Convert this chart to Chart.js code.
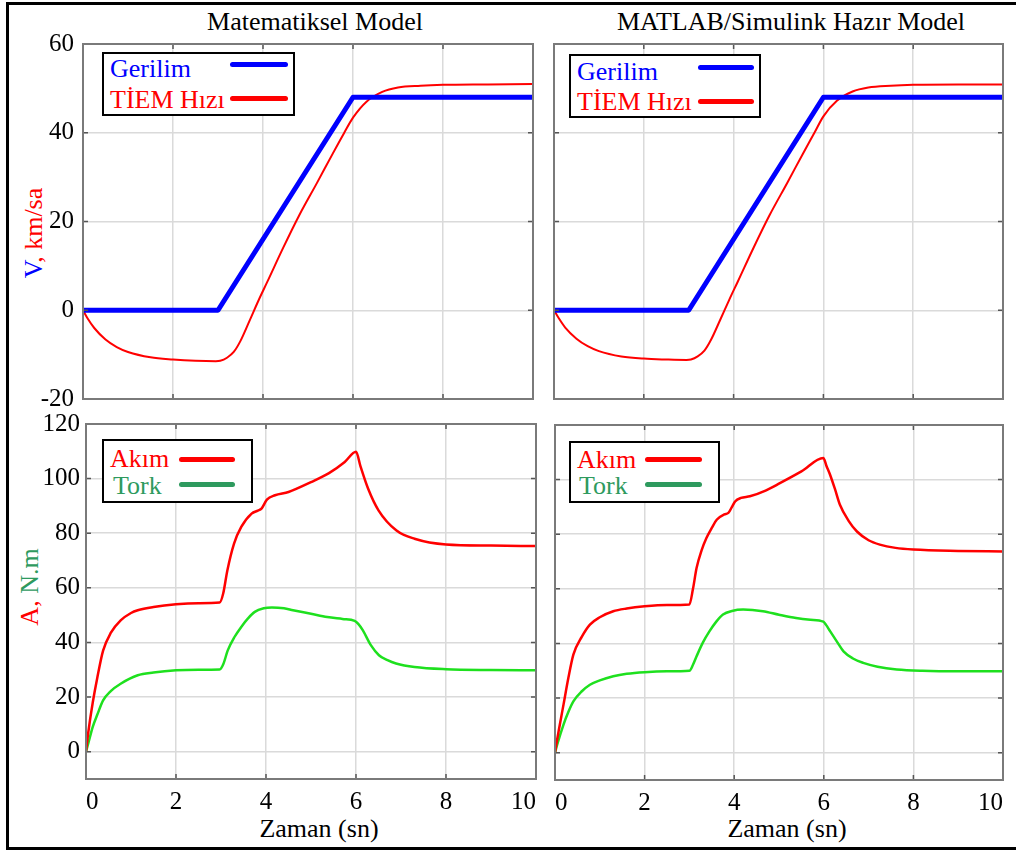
<!DOCTYPE html>
<html>
<head>
<meta charset="utf-8">
<script src="https://cdn.jsdelivr.net/npm/chart.js@4.4.1/dist/chart.umd.min.js"></script>
<style>
  html, body { margin: 0; padding: 0; background: #fff; }
  body { width: 1016px; height: 850px; position: relative; overflow: hidden; font-family: 'Liberation Serif', 'Times New Roman', serif; }
  canvas { position: absolute; }
  .frame { position: absolute; left: 6px; top: 2px; width: 1030px; height: 848px; border: 3px solid #000; box-sizing: border-box; }
  .lbl { position: absolute; transform: translate(-50%, -50%); white-space: nowrap; font-size: 26px; line-height: 1; color: #000; }
  .rot { transform: translate(-50%, -50%) rotate(-90deg); }
  .leg { position: absolute; border: 2px solid #000; background: #fff; box-sizing: border-box; }
  .legtxt { position: absolute; transform: translateY(-50%); white-space: nowrap; font-size: 26px; line-height: 1; }
  .legline { position: absolute; height: 5px; border-radius: 3px; }
</style>
</head>
<body>
<div class="frame"></div>

<div class="lbl" style="left:315px; top:22px;">Matematiksel Model</div>
<div class="lbl" style="left:791px; top:22px;">MATLAB/Simulink Hazır Model</div>
<div class="lbl rot" style="left:34px; top:233px;"><span style="color:#0000ff">V</span><span style="color:#ff0000">, km/sa</span></div>
<div class="lbl rot" style="left:30px; top:587px;"><span style="color:#ff0000">A, </span><span style="color:#2e9a5e">N.m</span></div>
<div class="lbl" style="left:319px; top:829px;">Zaman (sn)</div>
<div class="lbl" style="left:787px; top:829px;">Zaman (sn)</div>

<canvas id="tl" width="540" height="409" style="left:13px; top:20px;"></canvas>
<canvas id="tr" width="489" height="409" style="left:534px; top:20px;"></canvas>
<canvas id="bl" width="540" height="419" style="left:16px; top:400px;"></canvas>
<canvas id="br" width="488" height="419" style="left:535px; top:401px;"></canvas>

<!-- legends -->
<div class="leg" style="left:102px; top:52px; width:193px; height:64px;"></div>
<div class="legtxt" style="left:110px; top:69px; color:#0000ff;">Gerilim</div>
<div class="legline" style="left:230px; top:62px; width:58px; background:#0000ff;"></div>
<div class="legtxt" style="left:110px; top:100px; color:#ff0000;">TİEM Hızı</div>
<div class="legline" style="left:230px; top:96px; width:58px; background:#ff0000;"></div>

<div class="leg" style="left:569px; top:54px; width:192px; height:64px;"></div>
<div class="legtxt" style="left:577px; top:72px; color:#0000ff;">Gerilim</div>
<div class="legline" style="left:698px; top:65px; width:56px; background:#0000ff;"></div>
<div class="legtxt" style="left:577px; top:102px; color:#ff0000;">TİEM Hızı</div>
<div class="legline" style="left:698px; top:99px; width:56px; background:#ff0000;"></div>

<div class="leg" style="left:102px; top:439px; width:151px; height:64px;"></div>
<div class="legtxt" style="left:110px; top:459px; color:#ff0000;">Akım</div>
<div class="legline" style="left:179px; top:457px; width:56px; background:#ff0000;"></div>
<div class="legtxt" style="left:113px; top:486px; color:#2e9a5e;">Tork</div>
<div class="legline" style="left:179px; top:482px; width:56px; background:#2e9a5e;"></div>

<div class="leg" style="left:569px; top:441px; width:151px; height:62px;"></div>
<div class="legtxt" style="left:577px; top:460px; color:#ff0000;">Akım</div>
<div class="legline" style="left:645px; top:457px; width:57px; background:#ff0000;"></div>
<div class="legtxt" style="left:579px; top:486px; color:#2e9a5e;">Tork</div>
<div class="legline" style="left:645px; top:482px; width:57px; background:#2e9a5e;"></div>

<script>
// --- data ---
const timeTicks = [0, 2, 4, 6, 8, 10];
const speedTicks = [-20, 0, 20, 40, 60];
const loadTicks = [0, 20, 40, 60, 80, 100, 120];

// Gerilim (voltage reference), same in both models
const gerilimTime = [0, 3, 6, 10];
const gerilim = [0, 0, 48, 48];

// TİEM Hızı - mathematical model
const hizTimeMat = [0, 0.1, 0.25, 0.5, 0.75, 1, 1.5, 2, 2.5, 2.95, 3.05, 3.2, 3.35, 3.5, 3.7, 3.9, 4.1, 4.45, 4.8, 5.2, 5.55, 5.8, 6, 6.3, 6.65, 7, 7.5, 8, 9, 10];
const hizMat = [0, -1.8, -4, -6.6, -8.3, -9.4, -10.6, -11.1, -11.4, -11.5, -11.4, -10.7, -9.4, -6.9, -2.4, 2.2, 6.5, 14.1, 21.3, 28.7, 35.3, 39.9, 43.4, 47, 49.2, 50.2, 50.6, 50.8, 50.9, 51];

// TİEM Hızı - Simulink model
const hizTimeSim = [0, 0.1, 0.25, 0.5, 0.75, 1, 1.5, 2, 2.5, 2.95, 3.05, 3.2, 3.35, 3.5, 3.7, 3.9, 4.1, 4.45, 4.8, 5.2, 5.55, 5.8, 6, 6.3, 6.65, 7, 7.5, 8, 9, 10];
const hizSim = [0, -1.7, -3.9, -6.4, -8.1, -9.2, -10.4, -10.9, -11.1, -11.2, -11.1, -10.4, -9.1, -6.6, -2.2, 2.3, 6.6, 14.2, 21.4, 28.8, 35.4, 40, 43.7, 47.2, 49.3, 50.2, 50.6, 50.8, 50.9, 50.9];

// Akım / Tork - mathematical model
const akimTimeMat = [0, 0.05, 0.15, 0.25, 0.38, 0.55, 0.77, 1, 1.15, 1.5, 2, 2.5, 2.97, 3.05, 3.14, 3.29, 3.45, 3.68, 3.82, 3.9, 4.02, 4.2, 4.5, 5, 5.4, 5.75, 6.0, 6.1, 6.27, 6.5, 6.9, 7.3, 8, 9, 10];
const akimMat = [0, 7, 18, 27, 37, 43.5, 48.1, 50.8, 51.8, 53, 54, 54.4, 54.6, 58, 66.3, 76.2, 82.3, 87.2, 88.3, 89, 92.3, 93.9, 95.1, 98.7, 102, 106.1, 109.8, 104.5, 96.3, 88.4, 81, 78, 75.9, 75.5, 75.3];
const torkTimeMat = [0, 0.05, 0.15, 0.25, 0.38, 0.55, 0.77, 1.15, 1.5, 2, 2.5, 2.97, 3.05, 3.15, 3.3, 3.45, 3.6, 3.75, 3.95, 4.13, 4.4, 4.6, 5, 5.36, 5.7, 5.97, 6.05, 6.15, 6.33, 6.51, 6.7, 6.89, 7.3, 8, 9, 10];
const torkMat = [0, 3, 9.1, 13.5, 18.8, 22.2, 24.9, 28, 29, 29.8, 30, 30.1, 32, 37.1, 42, 45.7, 48.8, 51.2, 52.5, 52.8, 52.5, 51.8, 50.5, 49.3, 48.6, 47.9, 46.8, 44.5, 39, 35.3, 33.5, 32.3, 31, 30.2, 29.9, 29.8];

// Akım / Tork - Simulink model
const akimTimeSim = [0, 0.05, 0.19, 0.3, 0.41, 0.6, 0.78, 1, 1.3, 1.6, 2, 2.5, 3.0, 3.08, 3.16, 3.27, 3.38, 3.5, 3.61, 3.78, 3.87, 3.95, 4.02, 4.15, 4.35, 4.7, 5.02, 5.5, 5.99, 6.06, 6.14, 6.25, 6.36, 6.55, 6.74, 7, 7.25, 7.6, 8, 9, 10];
const akimSim = [0, 5, 17.6, 27.5, 35.9, 42.5, 46.9, 49.6, 51.8, 52.8, 53.6, 54.1, 54.3, 60, 67.6, 74, 78.6, 82.3, 85.3, 87.3, 87.8, 90, 92, 93.3, 93.9, 96, 98.7, 103, 107.9, 105, 101.8, 96.5, 90.8, 85, 81, 77.8, 76.2, 75, 74.4, 73.9, 73.7];
const torkTimeSim = [0, 0.05, 0.19, 0.3, 0.41, 0.6, 0.78, 1, 1.3, 1.6, 2, 2.5, 3.0, 3.08, 3.16, 3.3, 3.45, 3.6, 3.75, 3.95, 4.2, 4.64, 5, 5.38, 5.7, 5.99, 6.05, 6.14, 6.3, 6.44, 6.65, 6.88, 7.2, 7.63, 8.2, 9, 10];
const torkSim = [0, 3, 10.3, 15, 18.8, 22.5, 24.9, 26.5, 28, 28.9, 29.5, 29.8, 30, 32.2, 35.3, 40.3, 44.5, 48, 50.6, 51.9, 52.4, 51.8, 50.5, 49.3, 48.7, 48, 46.8, 44.5, 40.5, 37.1, 34.5, 32.9, 31.5, 30.5, 30, 29.8, 29.8];

const BLUE = '#0000ff', RED = '#ff0000', GREEN = '#1ee01e';
const FONT = "'Liberation Serif', 'Times New Roman', serif";

function pts(xs, ys) {
  return xs.map((x, i) => ({ x: x, y: ys[i] }));
}

// box around the plot with small inward ticks, matlab style
const framePlugin = {
  id: 'frame',
  afterDraw(chart) {
    const { ctx, chartArea: a, scales } = chart;
    const x = scales.x, y = scales.y;
    ctx.save();
    ctx.strokeStyle = '#555';
    ctx.lineWidth = 1.5;
    ctx.beginPath();
    x.ticks.forEach(t => {
      const px = x.getPixelForValue(t.value);
      ctx.moveTo(px, a.bottom); ctx.lineTo(px, a.bottom - 5);
      ctx.moveTo(px, a.top); ctx.lineTo(px, a.top + 5);
    });
    y.ticks.forEach(t => {
      const py = y.getPixelForValue(t.value);
      ctx.moveTo(a.left, py); ctx.lineTo(a.left + 5, py);
      ctx.moveTo(a.right, py); ctx.lineTo(a.right - 5, py);
    });
    ctx.stroke();
    ctx.strokeStyle = '#7a7a7a';
    ctx.lineWidth = 2;
    ctx.strokeRect(a.left, a.top, a.width, a.height);
    ctx.restore();
  }
};

function panel(id, datasets, o) {
  return new Chart(document.getElementById(id), {
    type: 'line',
    data: { datasets: datasets },
    options: {
      responsive: false,
      animation: false,
      devicePixelRatio: 1,
      layout: { padding: { top: 24, right: 20, left: 0, bottom: 0 } },
      plugins: { legend: { display: false }, tooltip: { enabled: false } },
      elements: { point: { radius: 0 } },
      scales: {
        x: {
          type: 'linear', min: 0, max: 10,
          afterBuildTicks: s => { s.ticks = timeTicks.map(v => ({ value: v })); },
          afterFit: s => { s.height = o.xHeight; },
          border: { display: false },
          grid: { color: '#dadada', lineWidth: 1.5, drawTicks: false },
          ticks: { display: o.xLabels, align: 'inner', padding: 8, color: '#000', font: { family: FONT, size: 25 } }
        },
        y: {
          type: 'linear', min: o.yMin, max: o.yMax,
          afterBuildTicks: s => { s.ticks = o.yTicks.map(v => ({ value: v })); },
          afterFit: s => { s.width = o.yWidth; },
          border: { display: false },
          grid: { color: '#dadada', lineWidth: 1.5, drawTicks: false },
          ticks: { display: o.yLabels, padding: o.yPad || 7, color: '#000', font: { family: FONT, size: 25 } }
        }
      }
    },
    plugins: [framePlugin]
  });
}

// smooth = monotone cubic for measured curves, straight segments for the voltage ramp
function line(data, color, width, smooth) {
  const ds = { data: data, borderColor: color, borderWidth: width, fill: false, tension: 0, borderCapStyle: 'round', borderJoinStyle: 'round' };
  if (smooth) ds.cubicInterpolationMode = 'monotone';
  return ds;
}

panel('tl', [
  line(pts(gerilimTime, gerilim), BLUE, 5, false),
  line(pts(hizTimeMat, hizMat), RED, 2, true)
], { yMin: -20, yMax: 60, yTicks: speedTicks, yLabels: true, xLabels: false, yWidth: 70, xHeight: 30, yPad: 9 });

panel('tr', [
  line(pts(gerilimTime, gerilim), BLUE, 5, false),
  line(pts(hizTimeSim, hizSim), RED, 2, true)
], { yMin: -20, yMax: 60, yTicks: speedTicks, yLabels: false, xLabels: false, yWidth: 20, xHeight: 30 });

panel('bl', [
  line(pts(akimTimeMat, akimMat), RED, 2.5, true),
  line(pts(torkTimeMat, torkMat), GREEN, 2.5, true)
], { yMin: -10, yMax: 120, yTicks: loadTicks, yLabels: true, xLabels: true, yWidth: 70, xHeight: 40, yPad: 6 });

panel('br', [
  line(pts(akimTimeSim, akimSim), RED, 2.5, true),
  line(pts(torkTimeSim, torkSim), GREEN, 2.5, true)
], { yMin: -10, yMax: 120, yTicks: loadTicks, yLabels: false, xLabels: true, yWidth: 20, xHeight: 40 });
</script>
</body>
</html>
